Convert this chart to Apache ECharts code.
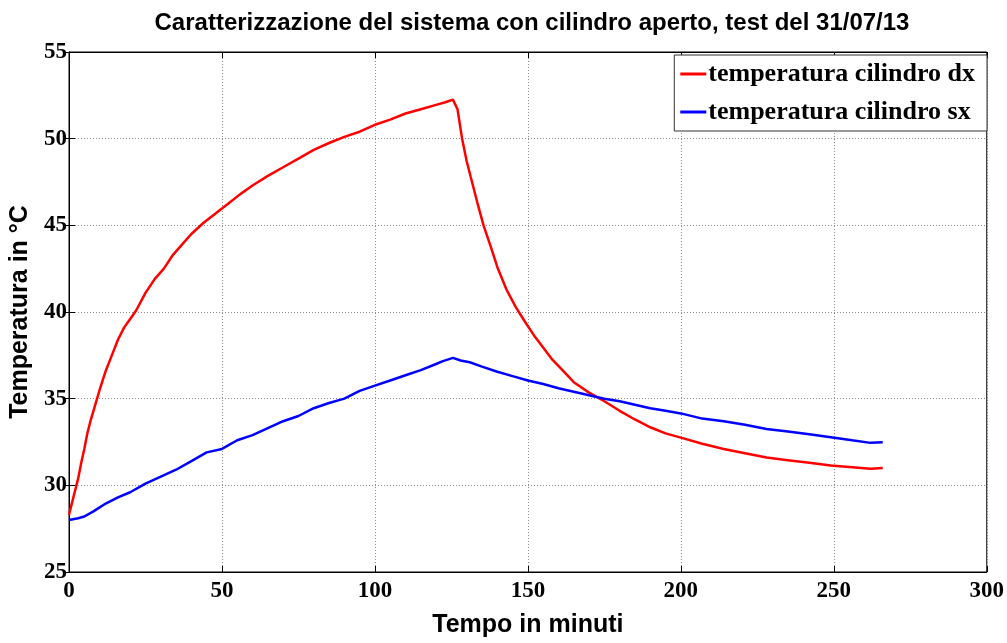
<!DOCTYPE html>
<html>
<head>
<meta charset="utf-8">
<script src="https://cdn.jsdelivr.net/npm/echarts@6/dist/echarts.min.js"></script>
<style>
html,body{margin:0;padding:0;background:#fff;}
#chart{width:1007px;height:643px;}
</style>
</head>
<body>
<div id="chart"></div>
<script>
// ---- Data ----
var chartTitle = 'Caratterizzazione del sistema con cilindro aperto, test del 31/07/13';
var xName = 'Tempo in minuti';
var yName = 'Temperatura in °C';
var seriesNames = ['temperatura cilindro dx', 'temperatura cilindro sx'];

var redTime = [0,1,2,3,4,5,6,7,8,9,10,12,14,16,18,20,22,25,28,31,34,37,40,44,48,52,56,60,65,70,75,80,85,90,95,100,105,110,115,120,123,125.5,127,128.5,130,131.3,133.5,135.5,138,140,143,146,149,152,155,158,161,165,170,175,180,185,190,195,200,207,214,221,228,235,242,249,256,262,266];
var redTemp = [28.3,29.0,29.7,30.4,31.3,32.1,33.0,33.7,34.3,34.9,35.5,36.6,37.5,38.4,39.1,39.6,40.1,41.1,41.9,42.5,43.3,43.9,44.5,45.15,45.7,46.25,46.8,47.3,47.85,48.35,48.85,49.35,49.75,50.1,50.4,50.8,51.1,51.45,51.7,51.95,52.1,52.25,51.7,50.0,48.7,47.8,46.3,45.0,43.7,42.6,41.3,40.3,39.45,38.65,37.95,37.25,36.7,35.95,35.35,34.85,34.3,33.8,33.35,33.0,32.75,32.4,32.1,31.85,31.6,31.45,31.3,31.15,31.05,30.95,31.0];

var blueTime = [0,3,5,8,12,16,20,25,30,35,40,45,50,55,60,65,70,75,80,85,90,95,100,105,110,115,120,122,125.5,128,131,135,140,145,150,155,160,165,170,175,180,185,190,195,200,207,214,221,228,235,242,249,256,262,266];
var blueTemp = [28.0,28.1,28.2,28.5,28.95,29.3,29.6,30.1,30.5,30.9,31.4,31.9,32.1,32.6,32.9,33.3,33.7,34.0,34.45,34.75,35.0,35.45,35.75,36.05,36.35,36.65,37.0,37.15,37.35,37.2,37.1,36.85,36.55,36.3,36.05,35.85,35.6,35.4,35.2,35.0,34.85,34.65,34.45,34.3,34.15,33.85,33.7,33.5,33.25,33.1,32.95,32.78,32.6,32.45,32.48];

var xMin = 0, xMax = 300, xStep = 50;
var yMin = 25, yMax = 55, yStep = 5;

function pairs(t, v){ return t.map(function(x,i){ return [x, v[i]]; }); }

var tickFont = {fontFamily:'Liberation Serif', fontWeight:'bold', fontSize:23, color:'#000'};
var gridLine = {show:true, lineStyle:{color:'#8c8c8c', width:1, type:[1,2]}};
var nameFont = {fontFamily:'Liberation Sans', fontWeight:'bold', fontSize:25, color:'#000'};

var chart = echarts.init(document.getElementById('chart'));
chart.setOption({
  animation:false,
  backgroundColor:'#fff',
  title:{
    text: chartTitle, left: 527, top: 6, textAlign:'center',
    textStyle:{fontFamily:'Liberation Sans', fontWeight:'bold', fontSize:24, color:'#000'}
  },
  grid:{left:69, right:19, top:52, bottom:71, show:true, borderColor:'#000', borderWidth:1, backgroundColor:'transparent'},
  legend:{
    orient:'vertical', right:20, top:55,
    backgroundColor:'#fff', borderColor:'#333', borderWidth:1,
    padding:[6,12,6,6], itemGap:12, itemWidth:26, itemHeight:3, icon:'rect',
    textStyle:{fontFamily:'Liberation Serif', fontWeight:'bold', fontSize:26, color:'#000', padding:[0,0,0,-3]},
    data: seriesNames
  },
  xAxis:[{
    type:'value', min:xMin, max:xMax, interval:xStep, position:'bottom',
    name:xName, nameLocation:'middle', nameGap:41,
    nameTextStyle:nameFont,
    axisLine:{show:true, lineStyle:{color:'#000', width:1}},
    axisTick:{show:true, inside:true, length:6, lineStyle:{color:'#000'}},
    axisLabel:Object.assign({margin:8}, tickFont),
    splitLine:gridLine
  },{
    type:'value', min:xMin, max:xMax, interval:xStep, position:'top',
    axisLine:{show:true, lineStyle:{color:'#000'}},
    axisTick:{show:true, inside:true, length:6, lineStyle:{color:'#000'}},
    axisLabel:{show:false}, splitLine:{show:false}
  }],
  yAxis:[{
    type:'value', min:yMin, max:yMax, interval:yStep, position:'left',
    name:yName, nameLocation:'middle', nameGap:34,
    nameTextStyle:nameFont,
    axisLine:{show:true, lineStyle:{color:'#000', width:1}},
    axisTick:{show:true, inside:true, length:6, lineStyle:{color:'#000'}},
    axisLabel:Object.assign({margin:2}, tickFont),
    splitLine:gridLine
  },{
    type:'value', min:yMin, max:yMax, interval:yStep, position:'right',
    axisLine:{show:true, lineStyle:{color:'#000'}},
    axisTick:{show:true, inside:true, length:6, lineStyle:{color:'#000'}},
    axisLabel:{show:false}, splitLine:{show:false}
  }],
  series:[{
    name:seriesNames[0], type:'line', data:pairs(redTime, redTemp),
    showSymbol:false, symbol:'none', color:'#ff0000',
    lineStyle:{color:'#ff0000', width:2.5}, z:3
  },{
    name:seriesNames[1], type:'line', data:pairs(blueTime, blueTemp),
    showSymbol:false, symbol:'none', color:'#0000ff',
    lineStyle:{color:'#0000ff', width:2.5}, z:3
  }]
});
</script>
</body>
</html>
